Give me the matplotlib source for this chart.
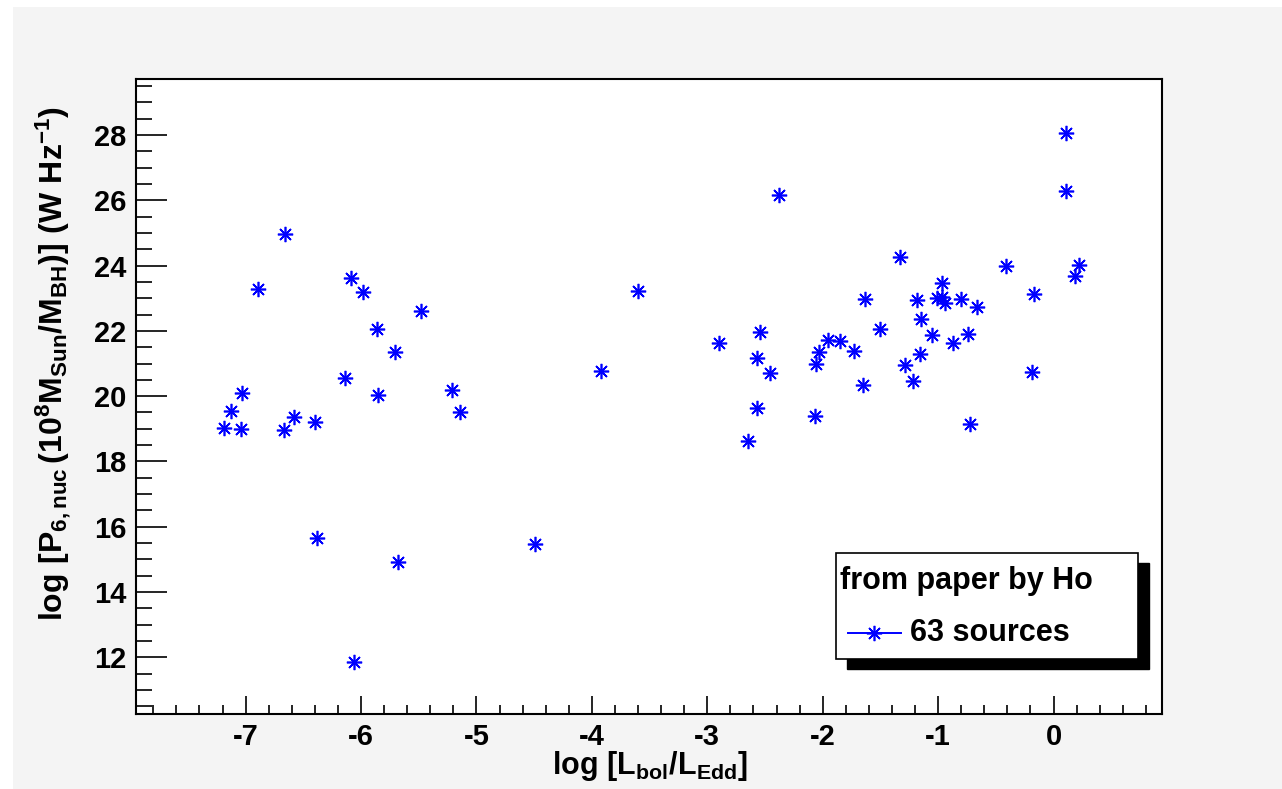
import numpy as np
import matplotlib
matplotlib.use("Agg")
import matplotlib.pyplot as plt
from matplotlib.ticker import MultipleLocator
from matplotlib.patches import Rectangle
from matplotlib.lines import Line2D

##############################
# data (63 sources, from paper by Ho)
log_edd = [-7.19, -7.13, -7.03, -7.04, -6.89, -6.66, -6.67, -6.58, -6.40, -6.14,
           -6.09, -5.98, -5.86, -5.85, -5.71, -5.48, -5.21, -5.14, -6.38, -5.68,
           -6.06, -4.49,
           -3.92, -3.60, -2.90, -2.65, -2.57, -2.57, -2.54, -2.46, -2.38, -2.07,
           -2.055, -2.03, -1.95, -1.85, -1.73, -1.65, -1.63, -1.50, -1.33, -1.285,
           -1.22, -1.18, -1.16, -1.15, -1.05, -1.01, -0.97, -0.97, -0.94, -0.87,
           -0.80, -0.74, -0.72, -0.66, -0.41, -0.19, -0.17, 0.11, 0.11, 0.19, 0.22]
log_p6 = [19.03, 19.54, 20.09, 18.98, 23.29, 24.96, 18.96, 19.37, 19.21, 20.57,
          23.61, 23.20, 22.05, 20.03, 21.35, 22.62, 20.19, 19.51, 15.64, 14.91,
          11.85, 15.46,
          20.78, 23.22, 21.64, 18.62, 19.63, 21.18, 21.97, 20.70, 26.16, 19.39,
          21.00, 21.34, 21.72, 21.70, 21.39, 20.34, 22.97, 22.07, 24.27, 20.94,
          20.46, 22.94, 21.29, 22.36, 21.87, 23.02, 23.48, 23.03, 22.86, 21.64,
          22.99, 21.92, 19.15, 22.74, 24.00, 20.75, 23.12, 28.08, 26.28, 23.69, 24.02]

legend_header = "from paper by Ho"
legend_entry = "63 sources"
xlabel = r"$\mathrm{log\ [L_{bol}/L_{Edd}]}$"
ylabel = r"$\mathrm{log\ [P_{6,nuc}\,(10^{8}M_{Sun}/M_{BH})]\ (W\ Hz^{-1})}$"

##############################
plt.rcParams['font.family'] = ['Liberation Sans', 'DejaVu Sans']
plt.rcParams['font.weight'] = 'bold'
plt.rcParams['axes.unicode_minus'] = False
plt.rcParams['mathtext.fontset'] = 'custom'
plt.rcParams['mathtext.rm'] = 'Liberation Sans:bold'
plt.rcParams['mathtext.it'] = 'Liberation Sans:bold'
plt.rcParams['mathtext.bf'] = 'Liberation Sans:bold'

W, H = 1282, 789
fig = plt.figure(figsize=(W/100., H/100.), dpi=100, facecolor='white')
# grey canvas (white strip on left/top like the screenshot)
fig.patches.append(Rectangle((13./W, 0), 1 - 13./W, 1 - 7./H, transform=fig.transFigure,
                             facecolor='#f4f4f4', edgecolor='none', zorder=-10))

x0, x1, y0, y1 = 136., 1162., 79., 714.3
ax = fig.add_axes([x0/W, 1 - y1/H, (x1 - x0)/W, (y1 - y0)/H])
ax.set_facecolor('white')

star = (8, 2, 0)
ax.plot(log_edd, log_p6, linestyle='none', marker=star, color='#0000ff',
        markersize=11, markeredgewidth=1.2)

ax.set_xlim(-7.95, 0.94)
ax.set_ylim(10.25, 29.72)

ax.xaxis.set_major_locator(MultipleLocator(1))
ax.xaxis.set_minor_locator(MultipleLocator(0.2))
ax.yaxis.set_major_locator(MultipleLocator(2))
ax.yaxis.set_minor_locator(MultipleLocator(0.5))

ax.tick_params(axis='both', which='both', direction='in', top=False, right=False,
               width=1.2, colors='black', labelsize=21)
ax.tick_params(axis='x', which='major', length=13, pad=6)
ax.tick_params(axis='x', which='minor', length=6.5)
ax.tick_params(axis='y', which='major', length=22, pad=7)
ax.tick_params(axis='y', which='minor', length=11.5)
for s in ax.spines.values():
    s.set_linewidth(1.5)

# axis titles placed like the ROOT canvas
fig.text(650/W, 1 - 766/H, xlabel, fontsize=22, ha='center', va='center')
fig.text(53/W, 1 - 364/H, ylabel, fontsize=23, rotation=90, ha='center', va='center')

##############################
# ROOT-like legend box with shadow
bx0, bx1 = (836 - x0)/(x1 - x0), (1138 - x0)/(x1 - x0)
by0, by1 = (y1 - 659)/(y1 - y0), (y1 - 553)/(y1 - y0)
dx, dy = 11/(x1 - x0), 10/(y1 - y0)
ax.add_patch(Rectangle((bx0 + dx, by0 - dy), bx1 - bx0, by1 - by0, transform=ax.transAxes,
                       facecolor='black', edgecolor='black', zorder=5, clip_on=False))
ax.add_patch(Rectangle((bx0, by0), bx1 - bx0, by1 - by0, transform=ax.transAxes,
                       facecolor='white', edgecolor='black', linewidth=1.2, zorder=6, clip_on=False))
ax.text((840 - x0)/(x1 - x0), (y1 - 581)/(y1 - y0), legend_header, transform=ax.transAxes,
        fontsize=22, fontweight='bold', ha='left', va='center', zorder=7)
hy = (y1 - 633)/(y1 - y0)
ax.add_line(Line2D([(848 - x0)/(x1 - x0), (901 - x0)/(x1 - x0)], [hy, hy], transform=ax.transAxes,
                   color='#0000ff', linewidth=1.4, zorder=7))
ax.add_line(Line2D([(874 - x0)/(x1 - x0)], [hy], transform=ax.transAxes, marker=star,
                   color='#0000ff', markersize=11, markeredgewidth=1.2, zorder=7))
ax.text((910 - x0)/(x1 - x0), hy, legend_entry, transform=ax.transAxes,
        fontsize=22, fontweight='bold', ha='left', va='center', zorder=7)

plt.savefig("out.png", dpi=100, facecolor=fig.get_facecolor())
